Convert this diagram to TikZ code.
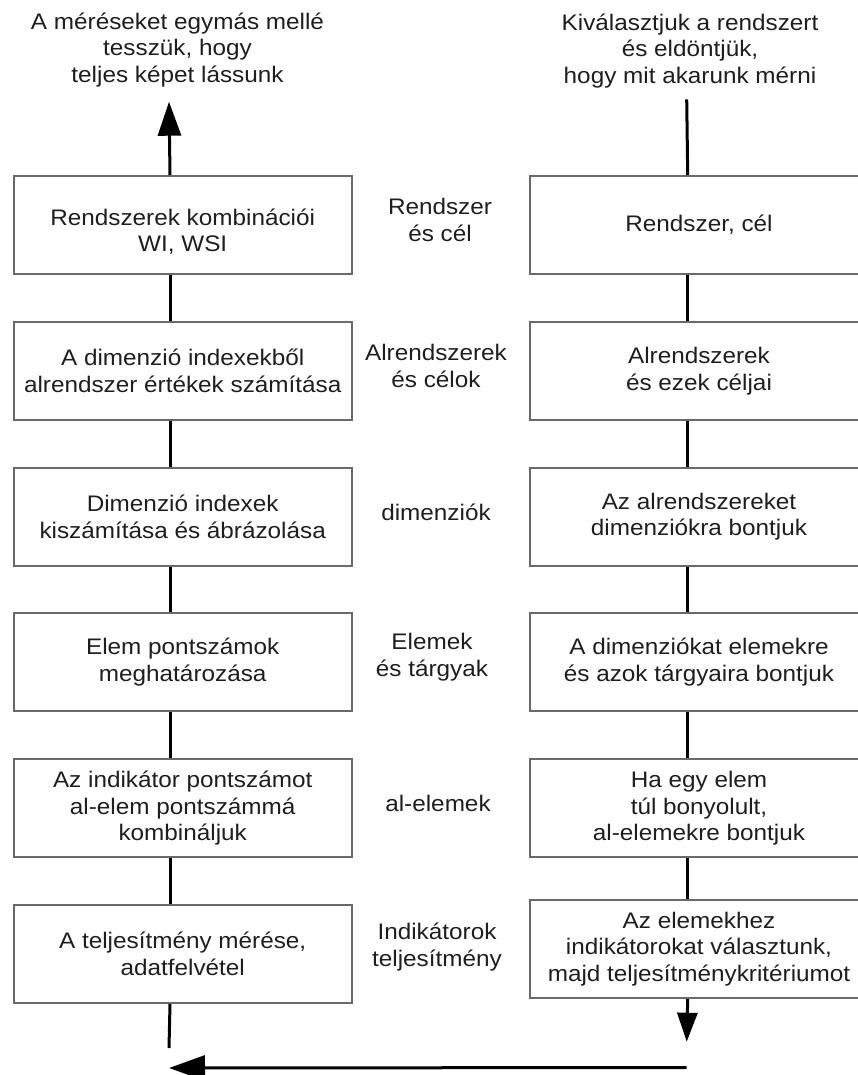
\documentclass[tikz,border=0pt]{standalone}
\usepackage{fontspec}
\setmainfont{Liberation Sans}[FakeStretch=1.08]
\usetikzlibrary{arrows.meta}
\definecolor{boxgray}{RGB}{105,105,105}
\definecolor{txt}{RGB}{30,30,30}
\newcommand\mainsize{\fontsize{22.5pt}{26.8pt}\selectfont}
\begin{document}
\begin{tikzpicture}[x=1pt,y=-1pt,
  box/.style={draw=boxgray, line width=2pt, minimum width=338pt, minimum height=98pt,
    inner sep=0pt, align=center, anchor=north west, font=\mainsize, text=txt},
  lbl/.style={align=center, font=\mainsize, text=txt},
  conn/.style={line width=3pt, draw=black}]
\useasboundingbox (0,0) rectangle (858,1075);
\clip (0,0) rectangle (858,1075);

% left boxes
\node[box] (L1) at (12.7,175)   {\rule{0pt}{30pt}Rendszerek kombinációi\\WI, WSI};
\node[box] (L2) at (12.7,320.8) {A dimenzió indexekből\\alrendszer értékek számítása};
\node[box] (L3) at (12.7,466.6) {Dimenzió indexek\\kiszámítása és ábrázolása};
\node[box] (L4) at (12.7,612.4) {Elem pontszámok\\meghatározása};
\node[box] (L5) at (12.7,758.2) {Az indikátor pontszámot\\al-elem pontszámmá\\kombináljuk};
\node[box] (L6) at (12.7,904)   {A teljesítmény mérése,\\adatfelvétel};

% right boxes
\node[box] (R1) at (529,175)   {Rendszer, cél};
\node[box] (R2) at (529,320.8) {Alrendszerek\\és ezek céljai};
\node[box] (R3) at (529,466.6) {Az alrendszereket\\dimenziókra bontjuk};
\node[box] (R4) at (529,612.4) {A dimenziókat elemekre\\és azok tárgyaira bontjuk};
\node[box] (R5) at (529,758.2) {Ha egy elem\\túl bonyolult,\\al-elemekre bontjuk};
\node[box] (R6) at (529,899)   {Az elemekhez\\indikátorokat választunk,\\majd teljesítménykritériumot};

% middle labels
\node[lbl] (M1) at (440,220) {Rendszer\\és cél};
\node[lbl] (M2) at (436,366) {Alrendszerek\\és célok};
\node[lbl] (M3) at (436,512) {dimenziók};
\node[lbl] (M4) at (432,657) {Elemek\\és tárgyak};
\node[lbl] (M5) at (438,803) {al-elemek};
\node[lbl] (M6) at (437,947) {Indikátorok\\teljesítmény};

% top texts
\node[lbl] (TL) at (177.5,50) {A méréseket egymás mellé\\tesszük, hogy\\teljes képet lássunk};
\node[lbl] (TR) at (690,51) {Kiválasztjuk a rendszert\\és eldöntjük,\\hogy mit akarunk mérni};

% coordinates
\coordinate (topL) at (169,101.7);
\coordinate (topR) at (686.7,99.3);
\coordinate (botR) at (686.7,1041.7);
\coordinate (hR) at (686.7,1067.5);
\coordinate (hL) at (169,1068);
\coordinate (botL) at (169,1048);

% left chain
\draw[conn,-{Triangle[length=34pt,width=23pt]}] ([xshift=-12.7pt]L1.north) -- (topL);
\foreach \a/\b in {L2/L1,L3/L2,L4/L3,L5/L4,L6/L5}
  \draw[conn] ([xshift=-12.7pt]\a.north) -- ([xshift=-12.7pt]\b.south);
\draw[conn] ([xshift=-12.7pt]L6.south) -- (botL);

% right chain
\draw[conn] (topR) -- ([xshift=-11.3pt]R1.north);
\foreach \a/\b in {R1/R2,R2/R3,R3/R4,R4/R5,R5/R6}
  \draw[conn] ([xshift=-11.3pt]\a.south) -- ([xshift=-11.3pt]\b.north);
\draw[conn,-{Triangle[length=29pt,width=20pt]}] ([xshift=-11.3pt]R6.south) -- (botR);

% bottom return
\draw[conn,-{Triangle[length=36pt,width=25pt]}] (hR) -- (hL);
\end{tikzpicture}
\end{document}
